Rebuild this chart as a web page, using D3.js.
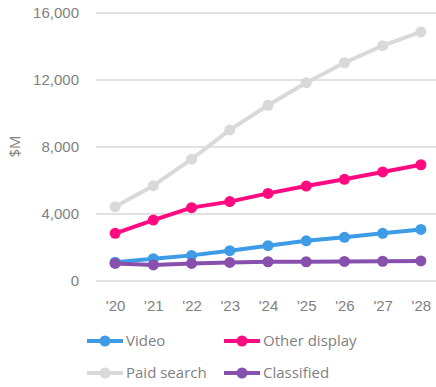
<!DOCTYPE html>
<html>
<head>
<meta charset="utf-8">
<script src="https://cdn.jsdelivr.net/npm/d3@7"></script>
<style>
  html, body { margin: 0; padding: 0; background: #fff; }
  svg { display: block; font-family: "Segoe UI", "Open Sans", "Noto Sans", sans-serif; }
</style>
</head>
<body>
<svg id="chart" width="436" height="387"></svg>
<script>
// Years on the x axis
const years = ["'20", "'21", "'22", "'23", "'24", "'25", "'26", "'27", "'28"];

// Spend by channel, $M
const video        = [1090, 1300, 1500, 1780, 2080, 2370, 2580, 2820, 3050];
const otherDisplay = [2820, 3610, 4350, 4710, 5200, 5640, 6040, 6480, 6910];
const paidSearch   = [4400, 5660, 7240, 8990, 10460, 11810, 13000, 14020, 14840];
const classified   = [1020, 930, 1020, 1080, 1120, 1120, 1140, 1150, 1170];

const seriesNames  = ["Video", "Other display", "Paid search", "Classified"];
const seriesColors = ["#3e9be6", "#ff0a80", "#d9d9d9", "#8650ac"];
const yTicks = [0, 4000, 8000, 12000, 16000];

const series = [video, otherDisplay, paidSearch, classified].map((values, i) => ({
  name: seriesNames[i], color: seriesColors[i], values
}));

const svg = d3.select("#chart");
const margin = { left: 96, right: -4, top: 12.5, bottom: 106.5 };
const W = 436, H = 387;

const x = d3.scalePoint().domain(years)
  .range([margin.left, W - margin.right]).padding(0.5);
const y = d3.scaleLinear().domain([0, 16000])
  .range([H - margin.bottom, margin.top]);

const textColor = "#7f7f7f";

// Horizontal gridlines
const yAxis = d3.axisLeft(y).tickValues(yTicks)
  .tickSize(-(W - margin.right - margin.left))
  .tickPadding(17)
  .tickFormat(d3.format(","));
const gy = svg.append("g").attr("transform", `translate(${margin.left},0)`).call(yAxis);
gy.select(".domain").remove();
gy.selectAll(".tick line").attr("stroke", "#d9d9d9").attr("stroke-width", 1.3);
gy.selectAll(".tick text").attr("fill", textColor).attr("font-size", 15);

// Year labels
const xAxis = d3.axisBottom(x).tickSize(0).tickPadding(20);
const gx = svg.append("g").attr("transform", `translate(0,${y(0)})`).call(xAxis);
gx.select(".domain").remove();
gx.selectAll(".tick text").attr("fill", textColor).attr("font-size", 15);

// Y axis title
svg.append("text")
  .attr("transform", `translate(20,${y(8000)}) rotate(-90)`)
  .attr("text-anchor", "middle")
  .attr("fill", textColor)
  .attr("font-size", 15)
  .text("$M");

// Lines with markers
const line = d3.line().x((d, i) => x(years[i])).y(d => y(d));
const g = svg.append("g");
series.forEach(s => {
  g.append("path")
    .attr("d", line(s.values))
    .attr("fill", "none")
    .attr("stroke", s.color)
    .attr("stroke-width", 4)
    .attr("stroke-linejoin", "round");
  g.selectAll(null).data(s.values).enter().append("circle")
    .attr("cx", (d, i) => x(years[i]))
    .attr("cy", d => y(d))
    .attr("r", 5.5)
    .attr("fill", s.color);
});

// Legend: two columns, two rows
const legendPos = [[87, 341], [224, 341], [87, 373], [224, 373]];
series.forEach((s, i) => {
  const [lx, ly] = legendPos[i];
  const lg = svg.append("g").attr("transform", `translate(${lx},${ly})`);
  lg.append("line").attr("x1", 0).attr("x2", 36).attr("y1", 0).attr("y2", 0)
    .attr("stroke", s.color).attr("stroke-width", 4);
  lg.append("circle").attr("cx", 18).attr("cy", 0).attr("r", 5.5).attr("fill", s.color);
  lg.append("text").attr("x", 39).attr("y", 0).attr("dy", "0.35em")
    .attr("fill", textColor).attr("font-size", 15).text(s.name);
});
</script>
</body>
</html>
